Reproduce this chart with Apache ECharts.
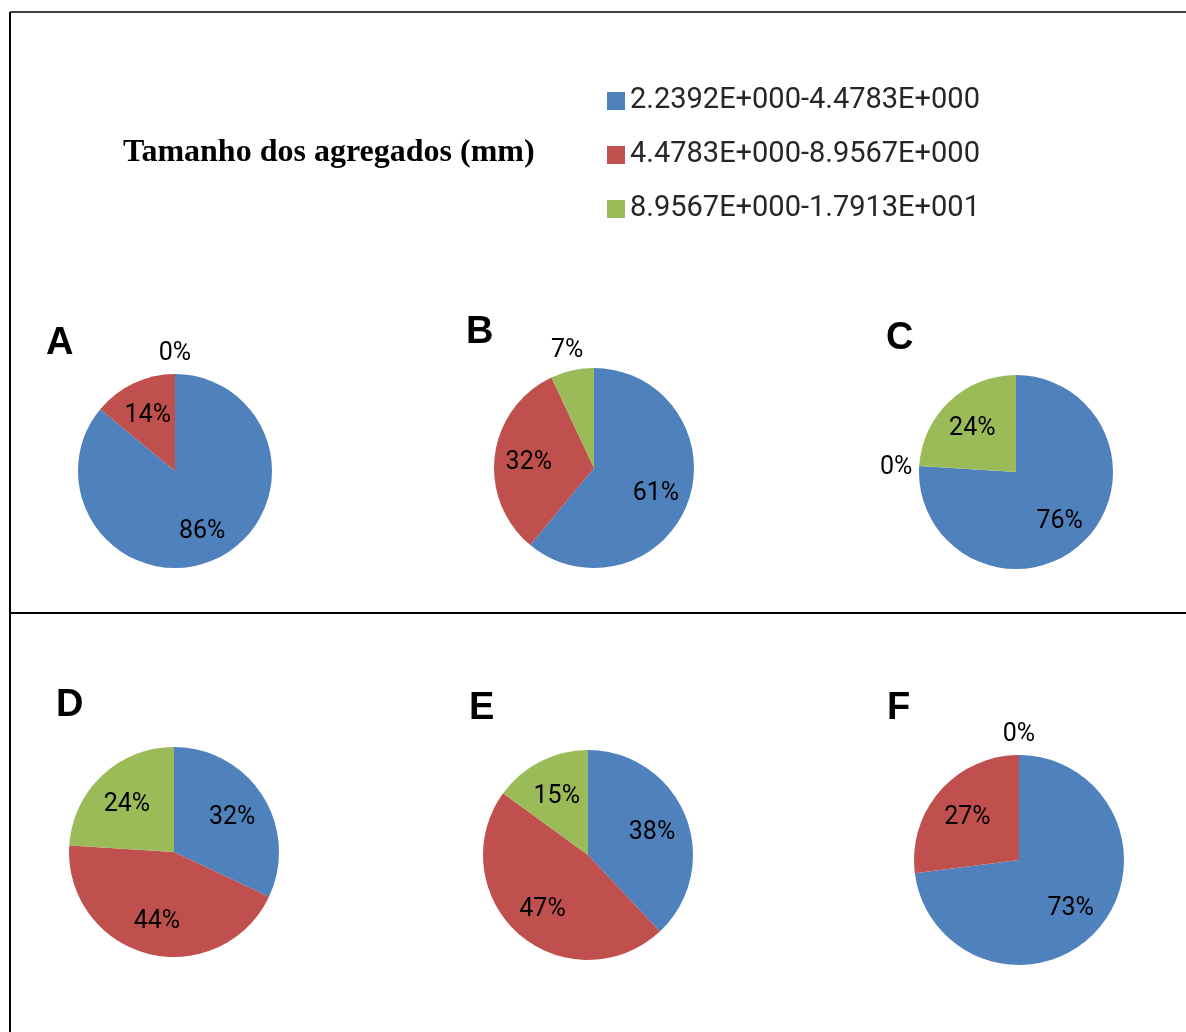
<!DOCTYPE html>
<html>
<head>
<meta charset="utf-8">
<title>Tamanho dos agregados</title>
<script src="https://cdn.jsdelivr.net/npm/echarts@6/dist/echarts.min.js"></script>
<style>
    html, body { margin: 0; padding: 0; background: #fff; }
    #chart { width: 1186px; height: 1032px; }
</style>
</head>
<body>
<div id="chart"></div>
<script>
    // size classes (mm) shown in the legend
    const categories = ['2.2392E+000-4.4783E+000', '4.4783E+000-8.9567E+000', '8.9567E+000-1.7913E+001'];
    const panelLetters = ['A', 'B', 'C', 'D', 'E', 'F'];
    // percentage of each class, one list per panel
    const shareA = [86, 14, 0];
    const shareB = [61, 32, 7];
    const shareC = [76, 0, 24];
    const shareD = [32, 44, 24];
    const shareE = [38, 47, 15];
    const shareF = [73, 27, 0];
    const shares = [shareA, shareB, shareC, shareD, shareE, shareF];

    const colors = ['#4F81BD', '#C0504D', '#9BBB59'];
    // center x, center y, radius of each pie
    const pieBox = [[175, 471, 97], [594, 468, 100], [1016, 472, 97], [174, 852, 105], [588, 855, 105], [1019, 860, 105]];
    // top-left of each panel letter
    const letterPos = [[46, 325], [466, 314], [886, 320], [56, 687], [469, 690], [887, 690]];

    var myChart = echarts.init(document.getElementById('chart'));

    const titles = [{
        text: 'Tamanho dos agregados (mm)',
        left: 123, top: 137, padding: 0,
        textStyle: { fontFamily: 'Liberation Serif', fontWeight: 'bold', fontSize: 32, color: '#000' }
    }];
    panelLetters.forEach(function (l, i) {
        titles.push({
            text: l, left: letterPos[i][0], top: letterPos[i][1], padding: 0,
            textStyle: { fontFamily: 'Liberation Sans', fontWeight: 'bold', fontSize: 38, color: '#000' }
        });
    });

    const series = shares.map(function (vals, i) {
        const cx = pieBox[i][0], cy = pieBox[i][1], r = pieBox[i][2];
        return {
            type: 'pie',
            center: [cx, cy],
            radius: [0, r],
            startAngle: 90,
            clockwise: true,
            silent: true,
            emphasis: { disabled: true },
            itemStyle: { borderWidth: 0 },
            label: {
                show: true,
                position: 'inside',
                formatter: '{c}%',
                color: '#000',
                fontFamily: 'Roboto',
                fontSize: 25
            },
            labelLine: { show: false },
            // move the inside label out along its own direction:
            // big slices at ~0.62 r, small ones just outside the rim
            labelLayout: function (p) {
                const lx = p.labelRect.x + p.labelRect.width / 2;
                const ly = p.labelRect.y + p.labelRect.height / 2;
                const ux = (lx - cx) / (r / 2);
                const uy = (ly - cy) / (r / 2);
                const v = vals[p.dataIndex];
                const target = v >= 10 ? 0.62 * r : r + 16;
                const d = target - r / 2;
                return { dx: ux * d, dy: uy * d + 3 };
            },
            data: vals.map(function (v, k) {
                return { name: categories[k], value: v, itemStyle: { color: colors[k] } };
            })
        };
    });

    const option = {
        animation: false,
        backgroundColor: '#fff',
        title: titles,
        legend: {
            orient: 'vertical',
            left: 607,
            top: 86,
            padding: 0,
            itemWidth: 18,
            itemHeight: 18,
            itemGap: 24,
            icon: 'rect',
            selectedMode: false,
            data: categories,
            textStyle: { fontFamily: 'Roboto', fontSize: 29, color: '#262626', lineHeight: 30 }
        },
        graphic: [
            { type: 'line', silent: true, shape: { x1: 10, y1: 12, x2: 1186, y2: 12 }, style: { stroke: '#000', lineWidth: 1.5 } },
            { type: 'line', silent: true, shape: { x1: 10, y1: 12, x2: 10, y2: 1032 }, style: { stroke: '#000', lineWidth: 2 } },
            { type: 'line', silent: true, shape: { x1: 10, y1: 613, x2: 1186, y2: 613 }, style: { stroke: '#000', lineWidth: 2 } }
        ],
        series: series
    };

    myChart.setOption(option);
</script>
</body>
</html>
